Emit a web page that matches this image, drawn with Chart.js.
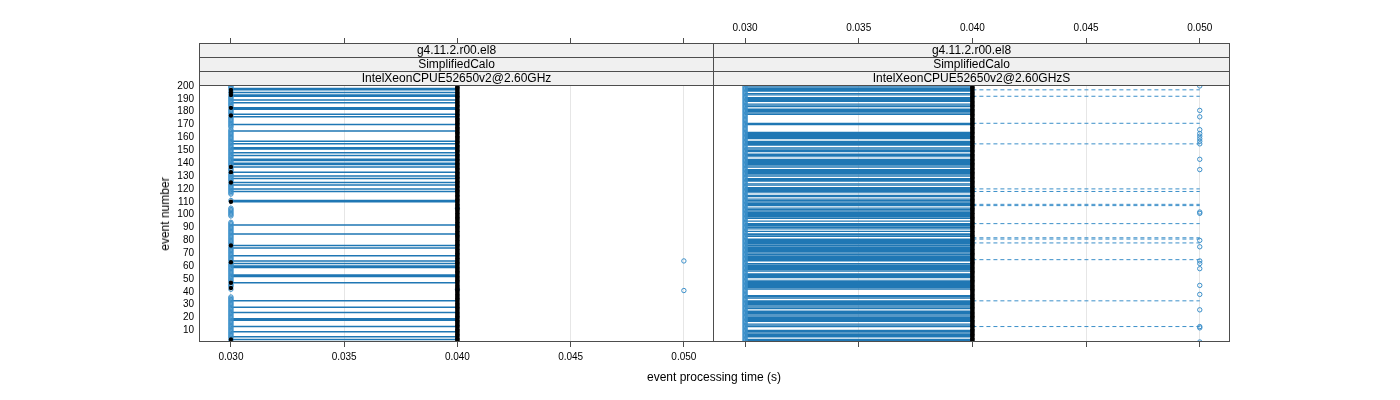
<!DOCTYPE html>
<html>
<head>
<meta charset="utf-8">
<script src="https://cdn.jsdelivr.net/npm/chart.js@4.4.1/dist/chart.umd.min.js"></script>
<style>
    html, body { margin: 0; padding: 0; background: #fff; }
    #wrap { position: relative; width: 1400px; height: 400px; font-family: "Liberation Sans", Arial, sans-serif; }
    canvas { position: absolute; top: 0; }
    #cLeft { left: 0; }
    #cRight { left: 713px; }
    .axtitle { position: absolute; font-size: 12px; color: #000; white-space: nowrap; }
    #xTitle { left: 0; width: 1428px; text-align: center; top: 370px; }
    #yTitle { left: 165px; top: 214px; transform: translate(-50%, -50%) rotate(-90deg); }
</style>
</head>
<body>
<div id="wrap">
    <canvas id="cLeft" width="714" height="400"></canvas>
    <canvas id="cRight" width="687" height="400"></canvas>
    <div class="axtitle" id="xTitle">event processing time (s)</div>
    <div class="axtitle" id="yTitle">event number</div>
</div>
<script>
(function () {
    'use strict';

    /* ---- data ---- */
    // event numbers (categories on the y axis)
    var events = [];
    for (var n = 1; n <= 200; n++) events.push(n);

    var xTicks = [0.030, 0.035, 0.040, 0.045, 0.050];
    var yTicks = [10, 20, 30, 40, 50, 60, 70, 80, 90, 100, 110, 120, 130, 140, 150, 160, 170, 180, 190, 200];

    var leftStrips = ['g4.11.2.r00.el8', 'SimplifiedCalo', 'IntelXeonCPUE52650v2@2.60GHz'];
    var rightStrips = ['g4.11.2.r00.el8', 'SimplifiedCalo', 'IntelXeonCPUE52650v2@2.60GHzS'];

    // left panel
    var leftSolid = [3, 5, 9, 13, 18, 19, 24, 28, 33, 47, 52, 53, 59, 60, 62, 64, 68, 74, 76, 85, 92,
        110, 111, 118, 120, 123, 125, 128, 130, 133, 137, 139, 140, 142, 143, 146, 148, 151, 152, 155,
        157, 165, 170, 176, 178, 182, 183, 187, 189, 192, 193, 195, 197, 198];
    var leftNoCircle = [37, 38, 39, 40, 41, 95, 96, 97, 98, 106, 107, 108, 109,
        112, 113, 114, 115, 167];
    var leftBlack030 = [3, 43, 47, 63, 76, 110, 125, 133, 137, 177, 183, 193, 195, 197];
    var leftCircle040 = [42, 105];
    var leftCircle050 = [41, 64];

    // right panel
    var rightNoSolid = [4, 11, 12, 16, 26, 34, 38, 39, 40, 41, 50, 55, 63, 82, 86, 88, 94, 96, 106, 113,
        116, 122, 125, 129, 136, 144, 148, 153, 158, 165, 166, 167, 168, 169, 172, 173, 174, 175, 176,
        177, 183, 187, 192, 195];
    var rightDashed = [1, 13, 33, 65, 78, 81, 82, 93, 107, 108, 118, 120, 155, 171, 192, 197];
    var rightCircle050 = [1, 12, 13, 26, 38, 45, 58, 62, 64, 75, 80, 101, 102, 135, 143, 155, 157,
        159, 161, 163, 166, 176, 181, 200];

    var xMin = 0.02859, xMax = 0.05133;
    var yMin = 1.0, yMax = 233.4;   // top 32 units sit under the strips

    var BLUE = '#1f77b4';
    var BLUE_PT = '#3b8fc9';
    var FONT = '"Liberation Sans", Arial, sans-serif';

    /* ---- helpers ---- */
    function without(list, drop) {
        return list.filter(function (v) { return drop.indexOf(v) === -1; });
    }

    function segs(list, x0, x1) {
        var out = [];
        list.forEach(function (e) {
            out.push({ x: x0, y: e }, { x: x1, y: e }, { x: (x0 + x1) / 2, y: null });
        });
        return out;
    }

    function pts(list, x) {
        return list.map(function (e) { return { x: x, y: e }; });
    }

    function lineSet(data, dash, width, color) {
        return { data: data, showLine: true, spanGaps: false, borderColor: color || BLUE, borderWidth: width,
                 borderDash: dash, pointRadius: 0, pointHoverRadius: 0 };
    }

    function ptSet(data, fill, stroke, r) {
        return { data: data, showLine: false, pointRadius: r, pointHoverRadius: r, pointStyle: 'circle',
                 pointBackgroundColor: fill, pointBorderColor: stroke, pointBorderWidth: stroke ? 1 : 0 };
    }

    function fixTicks(vals) {
        return function (scale) { scale.ticks = vals.map(function (v) { return { value: v }; }); };
    }

    function stripPlugin(labels) {
        return {
            id: 'strips',
            afterDraw: function (chart) {
                var a = chart.chartArea, ctx = chart.ctx, h = 14;
                var L = Math.round(a.left) + 0.5, R = Math.round(a.right) - 0.5;
                ctx.save();
                ctx.lineWidth = 1;
                labels.forEach(function (txt, i) {
                    var y = Math.round(a.top) + i * h;
                    ctx.fillStyle = '#f0f0f0';
                    ctx.fillRect(L, y + 0.5, R - L, h);
                    ctx.strokeStyle = '#4d4d4d';
                    ctx.strokeRect(L, y + 0.5, R - L, h);
                    ctx.fillStyle = '#000';
                    ctx.font = '12px ' + FONT;
                    ctx.textAlign = 'center';
                    ctx.textBaseline = 'middle';
                    ctx.fillText(txt, (a.left + a.right) / 2, y + h / 2 + 1);
                });
                ctx.strokeStyle = '#4d4d4d';
                ctx.strokeRect(L, Math.round(a.top) + 0.5, R - L, Math.round(a.bottom - a.top) - 1);
                ctx.restore();
            }
        };
    }

    function xAxis(pos, labels, grid, bandH) {
        return {
            type: 'linear', position: pos, min: xMin, max: xMax,
            afterBuildTicks: fixTicks(xTicks),
            afterFit: function (s) { s.height = bandH; s.paddingLeft = 0; s.paddingRight = 0; },
            border: { display: false },
            grid: { display: true, drawOnChartArea: grid, color: '#e6e6e6', lineWidth: 1,
                    drawTicks: true, tickLength: 5, tickColor: '#4d4d4d' },
            ticks: { display: labels, padding: 4, color: '#000', maxRotation: 0,
                     font: { family: FONT, size: 10 },
                     callback: function (v) { return Number(v).toFixed(3); } }
        };
    }

    function baseOptions(scales, pad) {
        return {
            responsive: false,
            animation: false,
            devicePixelRatio: 1,
            events: [],
            layout: { autoPadding: false, padding: pad },
            plugins: { legend: { display: false }, tooltip: { enabled: false } },
            scales: scales
        };
    }

    /* ---- left panel ---- */
    var leftCircles = without(events, leftNoCircle.concat(leftBlack030));

    new Chart(document.getElementById('cLeft'), {
        type: 'scatter',
        data: {
            datasets: [
                ptSet(pts(events, 0.040), '#000', null, 2.2),
                ptSet(pts(leftBlack030, 0.030), '#000', null, 2.2),
                ptSet(pts(leftCircle040, 0.040), 'rgba(0,0,0,0)', BLUE_PT, 2.2),
                ptSet(pts(leftCircle050, 0.050), 'rgba(0,0,0,0)', BLUE_PT, 2.2),
                ptSet(pts(leftCircles, 0.030), 'rgba(0,0,0,0)', BLUE_PT, 2.2),
                lineSet(segs(leftSolid, 0.030, 0.040), [], 1.5)
            ]
        },
        options: baseOptions({
            x: xAxis('bottom', true, true, 58),
            x2: xAxis('top', false, false, 43),
            y: {
                type: 'linear', position: 'left', min: yMin, max: yMax,
                afterBuildTicks: fixTicks(yTicks),
                afterFit: function (s) { s.width = 199; },
                border: { display: false },
                grid: { drawOnChartArea: false, drawTicks: true, tickLength: 4, tickColor: 'rgba(0,0,0,0)' },
                ticks: { padding: 1, color: '#000', font: { family: FONT, size: 10 } }
            }
        }, { left: 0, right: 0, top: 0, bottom: 0 }),
        plugins: [stripPlugin(leftStrips)]
    });

    /* ---- right panel ---- */
    new Chart(document.getElementById('cRight'), {
        type: 'scatter',
        data: {
            datasets: [
                ptSet(pts(events, 0.040), '#000', null, 2.2),
                ptSet(pts(rightCircle050, 0.050), 'rgba(0,0,0,0)', BLUE_PT, 2.2),
                ptSet(pts(events, 0.030), 'rgba(0,0,0,0)', BLUE_PT, 2.2),
                lineSet(segs(rightDashed, 0.040, 0.050), [4, 3], 1, '#3b8fc9'),
                lineSet(segs(without(events, rightNoSolid), 0.030, 0.040), [], 1.2)
            ]
        },
        options: baseOptions({
            x: xAxis('top', true, true, 43),
            x2: xAxis('bottom', false, false, 58),
            y: { type: 'linear', display: false, min: yMin, max: yMax }
        }, { left: 0, right: 170, top: 0, bottom: 0 }),
        plugins: [stripPlugin(rightStrips)]
    });
})();
</script>
</body>
</html>
